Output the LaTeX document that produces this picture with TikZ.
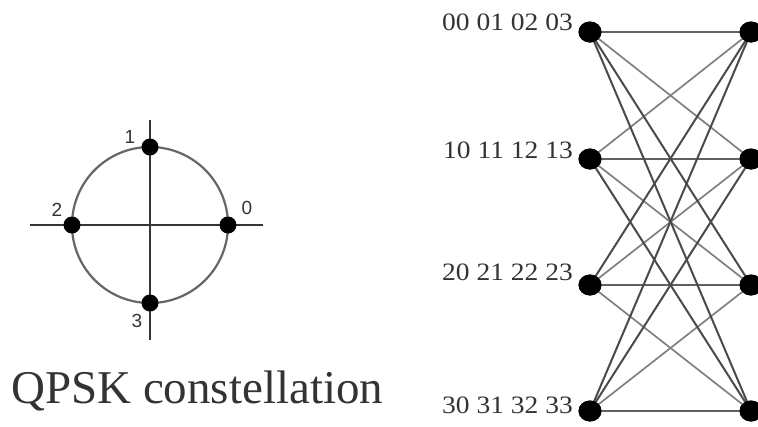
\documentclass[tikz,border=0pt]{standalone}
\usepackage{fontspec}
\setmainfont{Liberation Serif}
\newfontfamily\lblsans{Liberation Sans}
\usetikzlibrary{shapes.geometric}
\definecolor{txtgray}{HTML}{333333}
\definecolor{darkedge}{HTML}{4A4A4A}
\definecolor{lightedge}{HTML}{808080}
\definecolor{hedge}{HTML}{606060}
\definecolor{axisgray}{HTML}{353535}
\definecolor{ringgray}{HTML}{666666}
\tikzset{
  bigdot/.style={ellipse,fill=black,inner sep=0pt,minimum width=23pt,minimum height=21pt},
  smalldot/.style={circle,fill=black,inner sep=0pt,minimum size=17pt},
  hline/.style={draw=hedge,line width=2.6pt},
  farline/.style={draw=darkedge,line width=2pt},
  nearline/.style={draw=lightedge,line width=1.7pt},
  statelbl/.style={anchor=base east,inner sep=0pt,text=txtgray,font=\fontsize{25}{25}\selectfont},
  ptlbl/.style={inner sep=0pt,text=txtgray,font=\lblsans\fontsize{19}{19}\selectfont},
  axisline/.style={draw=axisgray,line width=2.2pt},
  ring/.style={draw=ringgray,line width=2.2pt}
}
\begin{document}
\begin{tikzpicture}[x=1pt,y=-1pt]
\useasboundingbox (0,0) rectangle (758,426);
% constellation
\coordinate (c) at (150,225);
\coordinate (axl) at (30,225);
\coordinate (axr) at (263,225);
\coordinate (axt) at (150,120);
\coordinate (axb) at (150,340);
\draw[ring] (c) circle[radius=78];
\draw[axisline] (axl) -- (axr);
\draw[axisline] (axt) -- (axb);
\node[smalldot] (p0) at (228,225) {};
\node[smalldot] (p1) at (150,147) {};
\node[smalldot] (p2) at (72,225) {};
\node[smalldot] (p3) at (150,303) {};
\node[ptlbl] (l1) at (130,137) {1};
\node[ptlbl] (l0) at (247,208) {0};
\node[ptlbl] (l2) at (57,210) {2};
\node[ptlbl] (l3) at (137,321) {3};
\node[anchor=base west,inner sep=0pt,text=txtgray,font=\fontsize{47}{47}\selectfont] (title) at (11,403) {QPSK constellation};
% trellis
\node[bigdot] (L0) at (590,32) {};
\node[bigdot] (L1) at (590,159) {};
\node[bigdot] (L2) at (590,285) {};
\node[bigdot] (L3) at (590,411) {};
\node[bigdot] (R0) at (751,32) {};
\node[bigdot] (R1) at (751,159) {};
\node[bigdot] (R2) at (751,285) {};
\node[bigdot] (R3) at (751,411) {};
\node[statelbl] (s0) at (573,30) {\scalebox{1.1}[1]{00 01 02 03}};
\node[statelbl] (s1) at (573,158) {\scalebox{1.1}[1]{10 11 12 13}};
\node[statelbl] (s2) at (573,280) {\scalebox{1.1}[1]{20 21 22 23}};
\node[statelbl] (s3) at (573,413) {\scalebox{1.1}[1]{30 31 32 33}};
% horizontal
\foreach \i in {0,1,2,3} {\draw[hline] (L\i.center) -- (R\i.center);}
% near diagonals
\foreach \a/\b in {0/1,1/0,1/2,2/1,2/3,3/2} {\draw[nearline] (L\a.center) -- (R\b.center);}
% far diagonals
\foreach \a/\b in {0/2,0/3,1/3,2/0,3/0,3/1} {\draw[farline] (L\a.center) -- (R\b.center);}
\foreach \n in {L0,L1,L2,L3,R0,R1,R2,R3} {\node[bigdot] at (\n) {};}
\end{tikzpicture}
\end{document}
